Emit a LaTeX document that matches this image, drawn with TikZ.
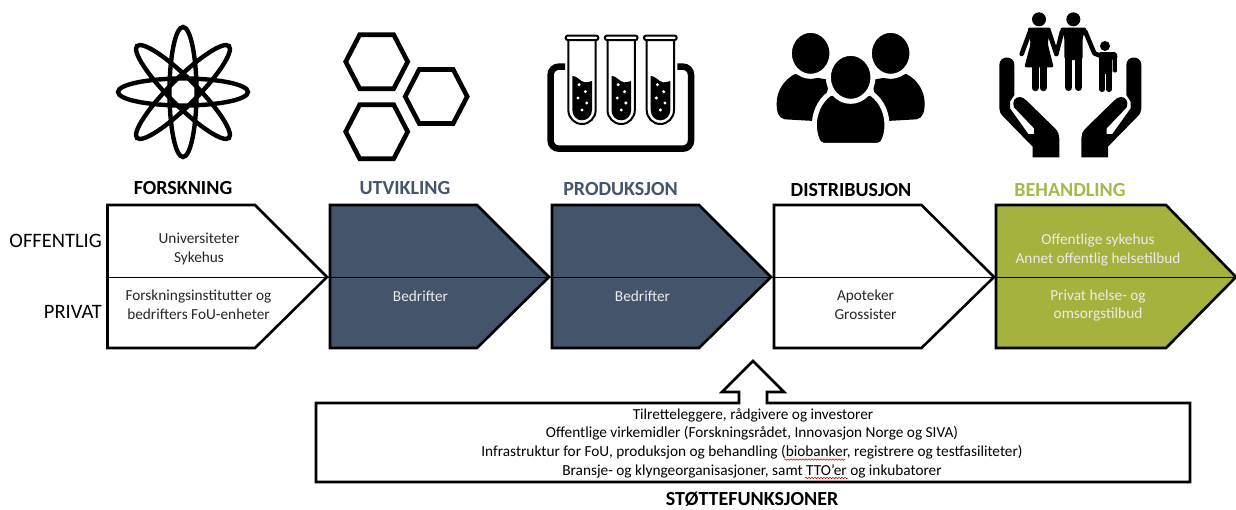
\documentclass[tikz,border=0pt]{standalone}
\usepackage{fontspec}
\setmainfont{Carlito}
\usetikzlibrary{decorations.pathmorphing}
\definecolor{navy}{HTML}{44546A}
\definecolor{olive}{HTML}{A5B23E}
\definecolor{olivetxt}{HTML}{A9B74A}
\definecolor{bodytxt}{HTML}{262626}
\tikzset{
  pentbox/.style={draw=black,line width=2.6pt,line join=miter},
  divider/.style={draw=black,line width=1pt},
  headline/.style={inner sep=0pt,font=\fontsize{20}{22}\selectfont\bfseries},
  sidelabel/.style={inner sep=0pt,anchor=east,font=\fontsize{20.5}{24}\selectfont,text=black},
  cell/.style={inner sep=0pt,align=center,font=\fontsize{15.3}{18.6}\selectfont,text=bodytxt},
  cellw/.style={cell,text=white!92!black},
  hexline/.style={draw=black,line width=4.6pt,line join=miter},
  orbit/.style={draw=black,line width=4.4pt},
  squiggle/.style={draw=red!75!black,line width=0.5pt,decorate,decoration={snake,amplitude=0.7pt,segment length=3pt}}
}
\newcommand{\pentshape}[5]{% name, left, shoulder, tip, style
  \draw[pentbox,#5] (#2,205) -- (#3,205) -- (#4,277) -- (#3,348) -- (#2,348) -- cycle;
  \coordinate (#1L) at (#2,277);
  \coordinate (#1R) at (#4,277);
}
\newcommand{\hexshape}[2]{%
  \draw[hexline] ({#1-31},#2) -- ({#1-17},{#2-27}) -- ({#1+17},{#2-27}) -- ({#1+31},#2) -- ({#1+17},{#2+27}) -- ({#1-17},{#2+27}) -- cycle;
}
\newcommand{\handpath}{%
  \fill[black] (58,195) .. controls (58,165) and (103,165) .. (103,195) -- (103,285) -- (90,305) -- (90,325) -- (145,402) -- (162,402) -- (162,385) -- (102,322) .. controls (95,305) and (105,290) .. (120,291) .. controls (128,292) and (132,295) .. (140,302) -- (225,385) .. controls (235,395) and (238,405) .. (238,415) -- (238,472) -- (158,472) -- (158,440) -- (70,350) .. controls (62,342) and (58,335) .. (58,325) -- cycle;
}
\begin{document}
\begin{tikzpicture}[x=1pt,y=-1pt]
\useasboundingbox (0,0) rectangle (1236,509);

% ---- atom icon
\foreach \a in {0,45,90,135}
  \draw[orbit,rotate around={\a:(183,92)}] (183,92) ellipse [x radius=65,y radius=13.5];

% ---- hexagons icon
\hexshape{376.7}{61.7}
\hexshape{436.2}{96.5}
\hexshape{376.7}{131.7}

% ---- test tubes icon
\begin{scope}[shift={(530,0)},scale=1/3]
  \draw[black,line width=6.5pt,rounded corners=8pt] (105,200) -- (62,200) -- (62,446) -- (483,446) -- (483,200) -- (442,200);
  \foreach \dx in {0,117.5,235}{
    \begin{scope}[shift={(\dx,0)}]
      \draw[black,line width=2pt,fill=white] (115,118) -- (115,330) .. controls (115,353) and (133,372) .. (156,372) .. controls (179,372) and (197,353) .. (197,330) -- (197,118);
      \draw[black,line width=2pt,fill=white,rounded corners=2pt] (107,107) rectangle (205,120);
      \fill[black] (127,228) .. controls (140,226) and (150,245) .. (165,247) .. controls (172,248) and (180,244) .. (186,243) -- (186,330) .. controls (186,347) and (173,361) .. (156,361) .. controls (139,361) and (127,347) .. (127,330) -- cycle;
      \fill[white] (147,254) circle [radius=5] (166,275) circle [radius=5] (144,294) circle [radius=5] (170,309) circle [radius=5] (156,330) circle [radius=5];
    \end{scope}
  }
\end{scope}

% ---- people icon
\begin{scope}[shift={(530,0)},scale=1/3]
  \fill[black] (795,222) .. controls (760,240) and (740,275) .. (740,310) .. controls (740,335) and (745,355) .. (765,358) -- (870,364) -- (900,240) -- cycle;
  \fill[black] (1129,222) .. controls (1164,240) and (1184,275) .. (1184,310) .. controls (1184,335) and (1179,355) .. (1159,358) -- (1054,364) -- (1024,240) -- cycle;
  \draw[white,line width=5pt,fill=black] (842,160) ellipse [x radius=64,y radius=69];
  \draw[white,line width=5pt,fill=black] (1082,160) ellipse [x radius=64,y radius=69];
  \draw[white,line width=5pt,fill=black] (900,280) .. controls (865,305) and (852,345) .. (853,380) .. controls (855,405) and (862,436) .. (880,436) -- (1044,436) .. controls (1062,436) and (1069,405) .. (1071,380) .. controls (1072,345) and (1059,305) .. (1024,280) -- cycle;
  \draw[white,line width=5pt,fill=black] (962,232) ellipse [x radius=67,y radius=72];
\end{scope}

% ---- family in hands icon
\begin{scope}[shift={(980,0)},scale=1/3]
  \handpath
  \begin{scope}[shift={(542,0)},xscale=-1]
    \handpath
  \end{scope}
  \fill[black] (177,58) circle [radius=21];
  \fill[black] (280,58) circle [radius=21];
  \fill[black] (375,138) circle [radius=15];
  % woman
  \draw[black,line width=4.6pt,line cap=round,line join=round] (150,95) -- (125,162);
  \draw[black,line width=4.6pt,line cap=round,line join=round] (207,95) -- (229,162);
  \fill[black,rounded corners=2pt] (143,83) -- (213,83) -- (203,130) -- (221,202) -- (133,202) -- (152,130) -- cycle;
  \draw[black,line width=6.4pt,line cap=round] (166,200) -- (166,264);
  \draw[black,line width=6.4pt,line cap=round] (190,200) -- (190,264);
  % man
  \draw[black,line width=4.6pt,line cap=round,line join=round] (246,95) -- (229,162);
  \draw[black,line width=4.6pt,line cap=round,line join=round] (316,95) -- (343,160) -- (368,170);
  \fill[black,rounded corners=3pt] (238,83) -- (322,83) -- (308,110) -- (308,180) -- (253,180) -- (253,110) -- cycle;
  \draw[black,line width=7.4pt,line cap=round] (266,170) -- (266,262);
  \draw[black,line width=7.4pt,line cap=round] (295,170) -- (295,262);
  % child
  \fill[black,rounded corners=2pt] (357,156) -- (410,156) -- (413,175) -- (397,175) -- (397,222) -- (357,222) -- cycle;
  \draw[black,line width=3.8pt,line cap=round] (406,168) -- (406,212);
  \draw[black,line width=5.4pt,line cap=round] (366,215) -- (366,268);
  \draw[black,line width=5.4pt,line cap=round] (387,215) -- (387,268);
\end{scope}

% ---- value chain
\pentshape{forsk}{107.5}{255}{327}{fill=white}
\pentshape{utv}{330}{477}{549}{fill=navy}
\pentshape{prod}{552}{699}{771}{fill=navy}
\pentshape{dist}{774}{921.5}{994}{fill=white}
\pentshape{beh}{996}{1166}{1236}{fill=olive}
\draw[divider] (forskL) -- (behR);

% ---- headings
\node[headline,text=black] (h1) at (183,187.7) {FORSKNING};
\node[headline,text=navy] (h2) at (405,187.7) {UTVIKLING};
\node[headline,text=navy] (h3) at (620.5,188.7) {PRODUKSJON};
\node[headline,text=black] (h4) at (851,189.7) {DISTRIBUSJON};
\node[headline,text=olivetxt] (h5) at (1070,189.7) {BEHANDLING};

\node[sidelabel] (off) at (102,240.5) {OFFENTLIG};
\node[sidelabel] (pri) at (102,311.5) {PRIVAT};

% ---- cell texts
\node[cell] (c1) at (199,249) {Universiteter\\Sykehus};
\node[cell] (c2) at (198.5,305) {Forskningsinstitutter og\\bedrifters FoU-enheter};
\node[cellw] (c3) at (420.5,296) {Bedrifter};
\node[cellw] (c4) at (642.5,296) {Bedrifter};
\node[cell] (c5) at (865.5,305) {Apoteker\\Grossister};
\node[cellw] (c6) at (1098,250) {Offentlige sykehus\\Annet offentlig helsetilbud};
\node[cellw] (c7) at (1098,305.5) {Privat helse- og\\omsorgstilbud};

% ---- support box with arrow
\draw[black,line width=2.8pt,fill=white,line join=miter] (739,403) -- (739,392) -- (722,392) -- (753,361) -- (784,392) -- (767,392) -- (767,403) -- (1190,403) -- (1190,482) -- (316,482) -- (316,403) -- cycle;
\node[cell,text=black] (s1) at (753,415) {Tilretteleggere, rådgivere og investorer};
\node[cell,text=black] (s2) at (752,433.5) {Offentlige virkemidler (Forskningsrådet, Innovasjon Norge og SIVA)};
\node[cell,text=black] (s3) at (752,452.5) {Infrastruktur for FoU, produksjon og behandling (biobanker, registrere og testfasiliteter)};
\node[cell,text=black] (s4) at (752,471) {Bransje- og klyngeorganisasjoner, samt TTO’er og inkubatorer};
\draw[squiggle] (784,459.5) -- (845,459.5);
\draw[squiggle] (805,478) -- (848,478);
\node[headline,text=black] (st) at (752,499.5) {STØTTEFUNKSJONER};
\end{tikzpicture}
\end{document}
